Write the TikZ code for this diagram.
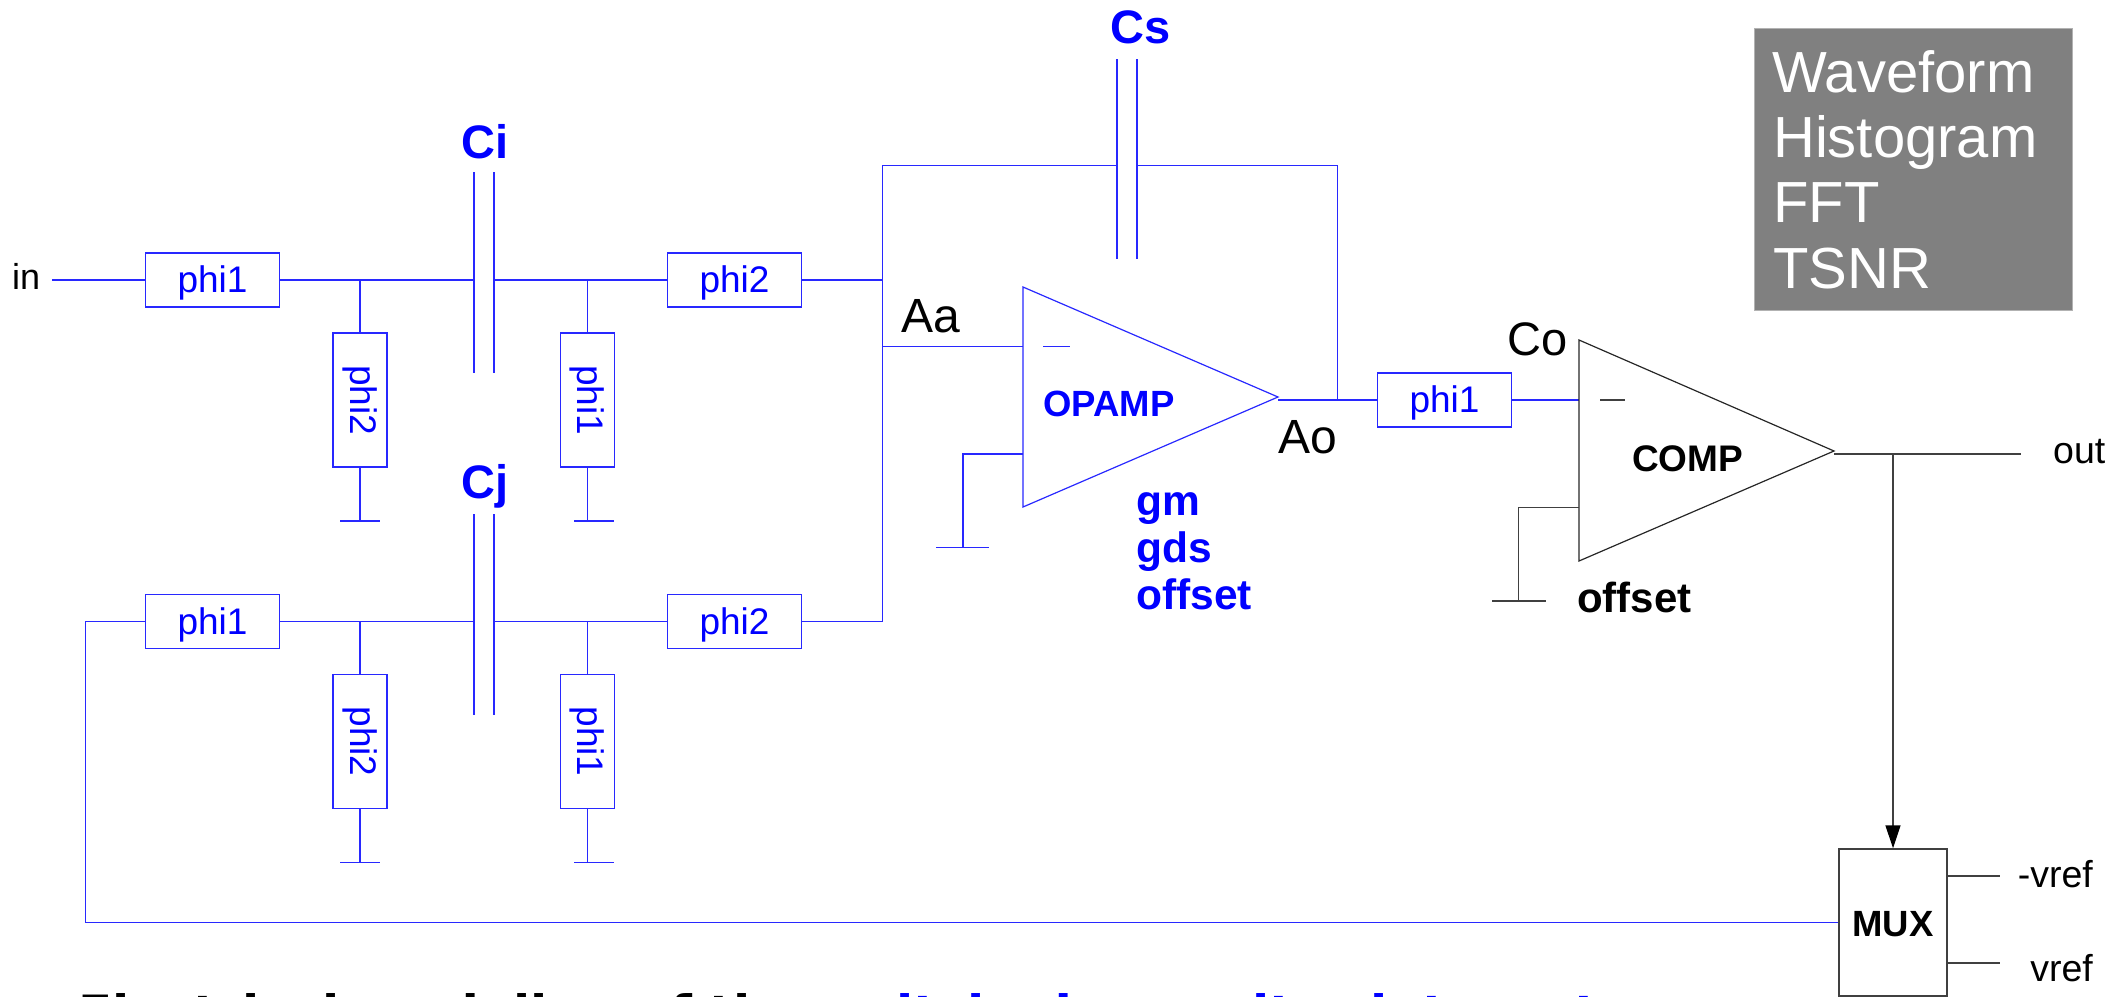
\documentclass[tikz,border=0pt]{standalone}
\usepackage{fontspec}
\setmainfont{Liberation Sans}
\newfontfamily\captionfont{DejaVu Sans}
\usetikzlibrary{arrows.meta}
\definecolor{wireblue}{RGB}{40,40,255}
\definecolor{boxgrey}{RGB}{128,128,128}

\tikzset{
    wire/.style={draw=wireblue, line width=1.4pt},
    blackwire/.style={draw=black!75, line width=1.4pt},
    switchbox/.style={draw=wireblue, line width=1.4pt, fill=white, text=blue, inner sep=0pt, font=\fontsize{37}{37}\selectfont},
    hswitch/.style={switchbox, minimum width=134pt, minimum height=54pt, text height=26pt, text depth=0.6pt},
    vswitch/.style={switchbox, minimum width=54pt, minimum height=134pt},
    plainlabel/.style={inner sep=0pt, anchor=base west, font=\fontsize{#1}{#1}\selectfont},
    boldlabel/.style={inner sep=0pt, anchor=base west, font=\fontsize{#1}{#1}\selectfont\bfseries},
}

\begin{document}
\begin{tikzpicture}
    [x=1pt, y=-1pt]
    \useasboundingbox (0,0) rectangle (2111,996);

    % Top branch of switches
    \node[hswitch] (s1) at (212.5,280) {phi1};
    \node[hswitch] (s2) at (734.5,280) {phi2};
    \node[vswitch] (s3) at (360,400) {\rotatebox{-90}{phi2}};
    \node[vswitch] (s4) at (587.5,400) {\rotatebox{-90}{phi1}};
    \coordinate (ci1) at (474,280);
    \coordinate (ci2) at (494,280);
    \coordinate (vi) at (52,280);
    \node[plainlabel=36] (in) at (12,289) {in};
    \draw[wire] (vi) -- (s1.west);
    \draw[wire] (s1.east) -- (ci1);
    \draw[wire] (ci2) -- (s2.west);
    \draw[wire] (474,172) -- (474,373);
    \draw[wire] (494,172) -- (494,373);
    \draw[wire] (s3.north) -- (s3.north |- ci1);
    \draw[wire] (s4.north) -- (s4.north |- ci1);
    \draw[wire] (s3.south) -- (360,521);
    \draw[wire] (s4.south) -- (587.5,521);
    \draw[wire] (340,521) -- (380,521);
    \draw[wire] (574,521) -- (614,521);
    \node[boldlabel=47, text=blue] (ci) at (461,158) {Ci};

    % Bottom branch of switches
    \node[hswitch] (s5) at (212.5,621.5) {phi1};
    \node[hswitch] (s6) at (734.5,621.5) {phi2};
    \node[vswitch] (s7) at (360,741.5) {\rotatebox{-90}{phi2}};
    \node[vswitch] (s8) at (587.5,741.5) {\rotatebox{-90}{phi1}};
    \coordinate (cj1) at (474,621.5);
    \coordinate (cj2) at (494,621.5);
    \draw[wire] (s5.east) -- (cj1);
    \draw[wire] (cj2) -- (s6.west);
    \draw[wire] (474,514) -- (474,715);
    \draw[wire] (494,514) -- (494,715);
    \draw[wire] (s7.north) -- (s7.north |- cj1);
    \draw[wire] (s8.north) -- (s8.north |- cj1);
    \draw[wire] (s7.south) -- (360,862.5);
    \draw[wire] (s8.south) -- (587.5,862.5);
    \draw[wire] (340,862.5) -- (380,862.5);
    \draw[wire] (574,862.5) -- (614,862.5);
    \node[boldlabel=47, text=blue] (cj) at (461,498) {Cj};

    % Opamp
    \coordinate (oa) at (1023,287);
    \coordinate (ob) at (1023,507);
    \coordinate (oc) at (1278,397);
    \draw[wire, line width=1.2pt, line join=miter] (oa) -- (oc) -- (ob) -- cycle;
    \draw[wire] (1043,346.5) -- (1070,346.5);
    \draw[wire] (882.5,346.5) -- (1023,346.5);
    \draw[wire] (s2.east) -- (882.5,280);
    \draw[wire] (s6.east) -- (882.5,621.5);
    \draw[wire] (882.5,621.5) -- (882.5,165.5) -- (1117,165.5);
    \draw[wire] (1137,165.5) -- (1337.5,165.5) -- (1337.5,400);
    \draw[wire] (1117,59) -- (1117,259);
    \draw[wire] (1137,59) -- (1137,259);
    \draw[wire] (1023,454) -- (963,454) -- (963,547.5);
    \draw[wire] (936,547.5) -- (989,547.5);
    \node[boldlabel=47, text=blue] (cs) at (1110,43) {Cs};
    \node[plainlabel=48] (aa) at (901,332) {Aa};
    \node[plainlabel=48] (ao) at (1278,453) {Ao};
    \node[boldlabel=36.5, text=blue] (opamp) at (1043,416) {OPAMP};
    \node[boldlabel=42.5, text=blue] (gm) at (1136,515) {gm};
    \node[boldlabel=42.5, text=blue] (gds) at (1136,562) {gds};
    \node[boldlabel=42.5, text=blue] (offs) at (1136,609) {offset};

    % Comparator
    \node[hswitch] (s9) at (1444.5,400) {phi1};
    \coordinate (ca) at (1579,340);
    \coordinate (cb) at (1579,561);
    \coordinate (cc) at (1834,451);
    \draw[wire] (oc |- s9.west) -- (s9.west);
    \draw[wire] (s9.east) -- (ca |- s9.east);
    \draw[line width=1.2pt, line join=miter, draw=black!85] (ca) -- (cc) -- (cb) -- cycle;
    \draw[blackwire] (1600,400) -- (1625,400);
    \draw[blackwire] (1579,507.5) -- (1518.5,507.5) -- (1518.5,601);
    \draw[blackwire] (1492,601) -- (1545.5,601);
    \node[plainlabel=47] (co) at (1507,355) {Co};
    \node[boldlabel=37] (comp) at (1632,471) {COMP};
    \node[boldlabel=42] (offc) at (1577,612) {offset};

    % Mux and outputs
    \node[draw=black!75, line width=1.4pt, fill=white, minimum width=108pt, minimum height=147pt, inner sep=0pt] (mux) at (1893,922.5) {};
    \coordinate (tap) at (1893,454);
    \draw[blackwire] (1834,454) -- (2021,454);
    \draw[blackwire, -{Triangle[length=23pt,width=15pt,black]}] (tap) -- (mux.north);
    \draw[wire] (s5.west) -- (85.5,621.5) -- (85.5,922.5) -- (mux.west);
    \draw[blackwire] (mux.east |- 0,876) -- (2000,876);
    \draw[blackwire] (mux.east |- 0,963) -- (2000,963);
    \node[boldlabel=36.5, anchor=base] (muxt) at (1893,936) {MUX};
    \node[plainlabel=37.5] (out) at (2053,463) {out};
    \node[plainlabel=37.5, anchor=base east] (vn) at (2093,887) {-vref};
    \node[plainlabel=37.5, anchor=base east] (vp) at (2093,981) {vref};

    % Results box
    \node[fill=boxgrey, draw=black!30, line width=0.8pt, minimum width=318pt, minimum height=282pt] (res) at (1913,169) {};
    \node[plainlabel=58, text=white] (r1) at (1772,92) {Waveform};
    \node[plainlabel=58, text=white] (r2) at (1773,157) {Histogram};
    \node[plainlabel=58, text=white] (r3) at (1773,222) {FFT};
    \node[plainlabel=58, text=white] (r4) at (1773,288) {TSNR};

    % Title, cut by the page
    \node[inner sep=0pt, anchor=base west, font=\captionfont\bfseries\fontsize{50}{50}\selectfont] (title) at (78.5,1031) {Electrical modeling of the \textcolor{blue}{switched capacitor integrator}};
\end{tikzpicture}
\end{document}
